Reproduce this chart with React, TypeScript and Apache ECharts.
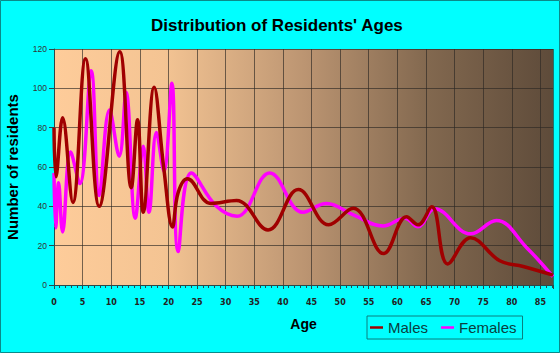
import React, { useEffect, useRef } from "react";
import * as echarts from "echarts";

const maleAges = [0, 0.35, 1.5, 3.3, 5.5, 7.9, 11.5, 13.5, 14.6, 15.6, 17.5, 19.2, 20.7, 21.7, 23.3, 27.4, 31.9, 37.4, 42.7, 48, 52.3, 57.6, 61.6, 63.6, 66, 68.8, 72.8, 77.9, 82, 87.2];
const maleValues = [80, 55, 85, 42, 115, 40, 118.6, 49.5, 84, 37, 100.5, 59, 29.5, 47, 54, 41.5, 43, 28, 48.5, 30.6, 39, 16, 34.7, 30.6, 39.8, 10.7, 24, 12.3, 9.4, 5];

const femaleAges = [0, 0.3, 0.8, 1.5, 2.9, 4.5, 6.5, 7.9, 9.7, 11.4, 12.6, 14.2, 15.6, 16.6, 17.9, 19.2, 20.6, 21.7, 24, 28.4, 32, 37.7, 43.5, 47.6, 52.3, 57.5, 61.3, 63.6, 66.5, 72.8, 77.3, 82.6, 87.2];
const femaleValues = [57, 29, 52, 27, 67.6, 51.6, 109, 45.5, 89, 65.5, 98, 34, 70.6, 37, 77.5, 58, 102.6, 17, 57, 40, 35, 57, 37, 41.4, 35.7, 30, 34, 29.6, 38.8, 26, 32.8, 19, 4.2];

const seriesNames = ["Males", "Females"];
const titleText = "Distribution of Residents' Ages";

const zip = (xs: number[], ys: number[]) => xs.map((x, i) => [x, ys[i]]);

export default function App() {
  const ref = useRef<HTMLDivElement>(null);
  useEffect(() => {
    if (!ref.current) return;
    const chart = echarts.init(ref.current, undefined, { renderer: "svg" });
    const grid = "rgba(45,40,35,0.65)";
    chart.setOption({
      animation: false,
      backgroundColor: "#00FFFF",
      title: {
        text: titleText,
        left: 146,
        top: 12,
        textStyle: { fontFamily: "Liberation Sans", fontSize: 17, fontWeight: "bold", color: "#000" },
      },
      graphic: [
        {
          type: "rect",
          shape: { x: 0.5, y: 0.5, width: 559, height: 352 },
          style: { fill: "none", stroke: "#0a8a8a", lineWidth: 1 },
          silent: true,
        },
      ],
      legend: {
        data: seriesNames,
        left: 367,
        top: 316,
        orient: "horizontal",
        icon: "rect",
        itemWidth: 13,
        itemHeight: 2.5,
        itemGap: 13,
        padding: [4, 6, 4, 3],
        borderColor: "#0a7f7f",
        borderWidth: 1,
        textStyle: { fontFamily: "Liberation Sans", fontSize: 15, color: "#0a4040" },
      },
      grid: {
        left: 54,
        top: 49,
        right: 7,
        bottom: 68,
        show: true,
        borderWidth: 0,
        outerBoundsMode: "none",
        containLabel: false,
        backgroundColor: new echarts.graphic.LinearGradient(0, 0, 1, 0, [
          { offset: 0, color: "#FECC9A" },
          { offset: 0.22, color: "#F4C493" },
          { offset: 0.5, color: "#BC9572" },
          { offset: 0.75, color: "#82684F" },
          { offset: 1, color: "#5E4B3A" },
        ]),
      },
      xAxis: {
        type: "value",
        min: 0,
        max: 87.2,
        interval: 5,
        name: "Age",
        nameLocation: "middle",
        nameGap: 32,
        nameTextStyle: { fontFamily: "Liberation Sans", fontSize: 14, fontWeight: "bold", color: "#000" },
        axisLine: { show: true, lineStyle: { color: "#2a4a4a", width: 1 } },
        axisTick: { show: true, length: 4, lineStyle: { color: "#2a4a4a" } },
        minorTick: { show: true, splitNumber: 5, length: 3, lineStyle: { color: "#2a4a4a" } },
        axisLabel: {
          fontFamily: "DejaVu Sans",
          fontSize: 8,
          fontWeight: "bold",
          color: "#222",
          margin: 13,
          showMaxLabel: false,
        },
        splitLine: { show: true, lineStyle: { color: grid, width: 1 } },
      },
      yAxis: {
        type: "value",
        min: 0,
        max: 120,
        interval: 20,
        name: "Number of residents",
        nameLocation: "middle",
        nameGap: 34,
        nameTextStyle: { fontFamily: "Liberation Sans", fontSize: 15, fontWeight: "bold", color: "#000" },
        axisLine: { show: true, lineStyle: { color: "#2a4a4a", width: 1 } },
        axisTick: { show: true, length: 5, lineStyle: { color: "#2a4a4a" } },
        axisLabel: { fontFamily: "Liberation Sans", fontSize: 8.5, color: "#333", margin: 7 },
        splitLine: { show: true, lineStyle: { color: grid, width: 1 } },
      },
      series: [
        {
          name: seriesNames[1],
          type: "line",
          data: zip(femaleAges, femaleValues),
          smooth: 0.4,
          showSymbol: false,
          lineStyle: { color: "#FF00FF", width: 3.5 },
          itemStyle: { color: "#FF00FF" },
          z: 2,
        },
        {
          name: seriesNames[0],
          type: "line",
          data: zip(maleAges, maleValues),
          smooth: 0.4,
          showSymbol: false,
          lineStyle: { color: "#A00000", width: 3.5 },
          itemStyle: { color: "#A00000" },
          z: 3,
        },
      ],
    });
    return () => chart.dispose();
  }, []);
  return <div ref={ref} style={{ position: "absolute", left: 0, top: 0, width: 560, height: 353 }} />;
}
